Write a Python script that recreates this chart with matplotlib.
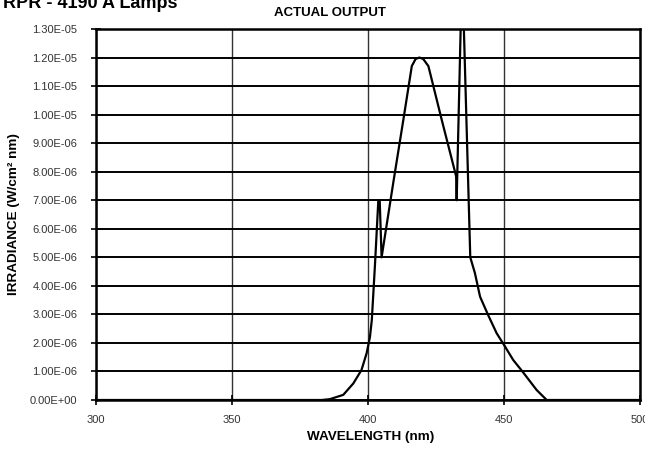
import numpy as np
import matplotlib
matplotlib.use("Agg")
import matplotlib.pyplot as plt
from matplotlib.ticker import FuncFormatter, MultipleLocator

plt.rcParams['font.family'] = ['Liberation Sans', 'DejaVu Sans']

# spectral output, wavelength in nm, irradiance in W/cm2 nm
wavelength = [300, 360, 383, 386, 390.9, 394.6, 397.6, 399.5, 400.7, 401.4, 402.6,
              403.8, 404.3, 405.0, 409.3, 413.0, 416.1, 417.5, 418.9, 420.3, 422.2,
              427.1, 432.4, 432.6, 434.6, 437.6, 439.3, 441.2, 444.2, 447.3, 450.0,
              453.4, 457.1, 462.0, 465.7, 500]
irradiance = [0, 0, 0, 0.03e-6, 0.18e-6, 0.58e-6, 1.05e-6, 1.64e-6, 2.2e-6, 2.8e-6, 4.8e-6,
              7.0e-6, 7.0e-6, 5.0e-6, 7.62e-6, 9.82e-6, 11.7e-6, 11.95e-6, 12.0e-6, 11.95e-6, 11.7e-6,
              9.82e-6, 7.84e-6, 7.0e-6, 15.2e-6, 5.0e-6, 4.45e-6, 3.62e-6, 2.97e-6, 2.34e-6, 1.93e-6,
              1.40e-6, 0.96e-6, 0.35e-6, 0, 0]

x_ticks = [300, 350, 400, 450, 500]

fig = plt.figure(figsize=(6.45, 4.5), dpi=100)
ax = fig.add_axes([96 / 645, 1 - 400 / 450, 544 / 645, 371 / 450])

ax.plot(wavelength, irradiance, color='black', linewidth=1.6, zorder=3)

ax.set_xlim(300, 500)
ax.set_ylim(0, 1.3e-5)
ax.set_xticks(x_ticks)
ax.yaxis.set_major_locator(MultipleLocator(1e-6))
ax.yaxis.set_major_formatter(FuncFormatter(lambda v, p: f"{v:.2E}"))

# heavy horizontal rules, lighter vertical ones
ax.grid(axis='y', color='black', linewidth=1.4)
ax.grid(axis='x', color='#333333', linewidth=1.0)
ax.set_axisbelow(True)

for s in ax.spines.values():
    s.set_linewidth(1.8)

ax.tick_params(direction='inout', length=7, width=1.2, labelsize=8,
               labelcolor='#333333')
ax.tick_params(axis='x', pad=7)
ax.tick_params(axis='y', pad=10)

ax.set_xlabel('WAVELENGTH (nm)', fontsize=9.7, fontweight='bold')
ax.set_ylabel('IRRADIANCE (W/cm² nm)', fontsize=9.7, fontweight='bold')
ax.xaxis.set_label_coords(0.504, -0.083)
ax.yaxis.label.set_va('center')
ax.yaxis.set_label_coords(-0.15, 0.5)

fig.text(3 / 645, 1 - 8 / 450, 'RPR - 4190 A Lamps', fontsize=13,
         fontweight='bold', va='baseline', ha='left')
fig.text(330 / 645, 1 - 13 / 450, 'ACTUAL OUTPUT', fontsize=9.5,
         fontweight='bold', va='center', ha='center')

fig.savefig('out.png', dpi=100)
